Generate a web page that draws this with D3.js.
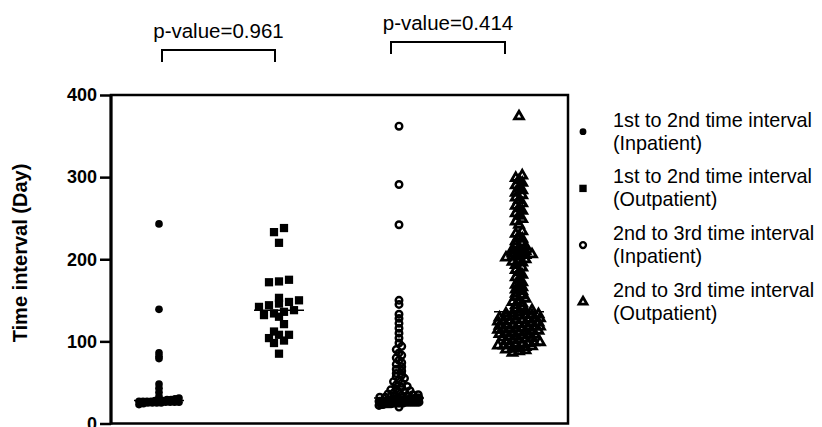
<!DOCTYPE html>
<html lang="en">
<head>
<meta charset="UTF-8">
<title>Time interval scatter</title>
<script src="https://cdn.jsdelivr.net/npm/d3@7/dist/d3.min.js"></script>
<style>
  body { margin: 0; background: #fff; }
  svg { display: block; font-family: Arial, "Liberation Sans", sans-serif; }
</style>
</head>
<body>
<script>
// canvas
const width = 822;
const height = 427;

// data
const groups = ['in12', 'out12', 'in23', 'out23'];
const legendLabels = [
    ['1st to 2nd time interval', '(Inpatient)'],
    ['1st to 2nd time interval', '(Outpatient)'],
    ['2nd to 3rd time interval', '(Inpatient)'],
    ['2nd to 3rd time interval', '(Outpatient)']
];
const yTicks = [0, 100, 200, 300, 400];
const pValues = ['p-value=0.961', 'p-value=0.414'];

const in12 = [243, 139, 86, 82, 79, 48, 43, 38, 33, 31, 30, 29, 29, 28, 28, 28,
    27, 27, 27, 27, 26, 26, 26, 26, 25, 25, 25, 25, 24, 23];

const out12 = [238, 233, 220, 175, 173, 172, 153, 150, 148, 146, 144, 142, 138,
    136, 134, 132, 130, 121, 112, 108, 108, 104, 101, 98, 85];

const in23 = [362, 291, 242, 150, 145, 133, 128, 122, 116, 110, 104,
    98, 94, 90, 86, 83, 80, 77, 74, 72, 69, 66, 64, 61, 59, 57, 55, 53, 51, 49,
    47, 45, 44, 42, 41, 40, 39, 38, 37, 36, 35, 35, 34, 34, 33, 33, 32, 32,
    31, 31, 31, 30, 30, 30, 30,
    29, 29, 29, 29, 29, 28, 28, 28, 28, 28, 28, 28, 28,
    27, 27, 27, 27, 27, 27, 27, 27, 26, 26, 26, 26, 26, 26, 26, 26,
    25, 25, 25, 25, 25, 25, 24, 24, 24, 24, 23, 23, 22, 20];

const out23 = [374,
    302, 299, 296, 293, 290, 287, 284, 281, 278, 275, 272, 268, 265, 262, 259,
    256, 253, 249, 246, 242,
    234, 231, 228, 225, 222, 220, 218, 216,
    214, 212, 210, 209, 207, 206, 205, 204, 203, 202, 200, 199, 197, 196,
    193, 190, 187, 184, 181, 178, 175, 172, 169, 166, 163, 161,
    158, 156, 154, 152, 150, 148, 146, 144, 142, 140, 138, 137,
    135, 134, 134, 133, 132, 132, 131, 130, 130, 129, 128, 128, 127, 126, 126,
    125, 124, 124, 123, 122, 122, 121, 120, 120, 119, 118, 118, 117, 116, 116,
    115, 114, 114, 113, 112, 112, 111, 110, 110, 109, 108, 108, 107, 106, 106,
    105, 104, 103, 102, 101,
    100, 99, 99, 98, 97, 97, 96, 95, 95, 94, 93, 92, 91, 90, 89, 88, 86];

const series = [in12, out12, in23, out23];

// svg
const svg = d3.select('body')
    .append('svg')
    .attr('width', width)
    .attr('height', height);

const plot = { left: 111, top: 95, right: 568, bottom: 423.5 };

const x = d3.scalePoint()
    .domain(groups)
    .range([159, 519]);

const y = d3.scaleLinear()
    .domain([0, 400])
    .range([plot.bottom, plot.top]);

// symbol styles per group
const marks = [
    { type: d3.symbolCircle, size: 46, fill: '#000', stroke: 'none', sw: 0, binH: 4, step: 6, maxW: 40 },
    { type: d3.symbolSquare, size: 68, fill: '#000', stroke: 'none', sw: 0, binH: 8, step: 10, maxW: 40 },
    { type: d3.symbolCircle, size: 34, fill: 'none', stroke: '#000', sw: 2.4, binH: 4, step: 5.5, maxW: 40 },
    { type: d3.symbolTriangle, size: 34, fill: 'none', stroke: '#000', sw: 2.8, binH: 4, step: 6.5, maxW: 42 }
];

// simple Prism-like scatter: bin by pixel row and spread each row
function swarm(vals, o) {
    const pts = vals.map(v => ({ v, py: y(v), dx: 0 }));
    const bins = d3.group(pts, p => Math.round(p.py / o.binH));
    for (const arr of bins.values()) {
        arr.sort((a, b) => a.v - b.v);
        const n = arr.length;
        const s = n > 1 ? Math.min(o.step, o.maxW / (n - 1)) : 0;
        arr.forEach((p, i) => { p.dx = (i - (n - 1) / 2) * s; });
    }
    return pts;
}

// frame
svg.append('rect')
    .attr('x', plot.left)
    .attr('y', plot.top)
    .attr('width', plot.right - plot.left)
    .attr('height', plot.bottom - plot.top)
    .attr('fill', 'none')
    .attr('stroke', '#000')
    .attr('stroke-width', 2.5);

// y axis
const yAxis = svg.append('g')
    .attr('transform', `translate(${plot.left},0)`)
    .call(d3.axisLeft(y).tickValues(yTicks).tickSize(11).tickPadding(3));
yAxis.select('.domain').attr('stroke-width', 3).attr('d', `M0,${plot.top}V${plot.bottom + 1}`);
yAxis.selectAll('.tick line').attr('stroke-width', 2.5);
yAxis.selectAll('.tick text')
    .attr('font-family', 'Arial, "Liberation Sans", sans-serif')
    .attr('font-size', 18)
    .attr('font-weight', 'bold')
    .attr('fill', '#000');

svg.append('text')
    .attr('transform', 'translate(27,253) rotate(-90)')
    .attr('text-anchor', 'middle')
    .attr('font-size', 20)
    .attr('font-weight', 'bold')
    .text('Time interval (Day)');

// points
series.forEach((vals, i) => {
    const m = marks[i];
    const pts = swarm(vals, m);
    const sym = d3.symbol().type(m.type).size(m.size);
    svg.append('g')
        .selectAll('path')
        .data(pts)
        .enter()
        .append('path')
        .attr('transform', d => `translate(${x(groups[i]) + d.dx},${d.py})`)
        .attr('d', sym)
        .attr('fill', m.fill)
        .attr('stroke', m.stroke)
        .attr('stroke-width', m.sw);

    // median line
    const med = d3.median(vals);
    svg.append('line')
        .attr('x1', x(groups[i]) - 25)
        .attr('x2', x(groups[i]) + 25)
        .attr('y1', y(med))
        .attr('y2', y(med))
        .attr('stroke', '#000')
        .attr('stroke-width', 1.5);
});

// p-value brackets
const brackets = [
    { a: 0, b: 1, da: 3, db: -4, top: 50, leg: 12, base: 38 },
    { a: 2, b: 3, da: -8, db: -14, top: 42, leg: 12, base: 30 }
];
brackets.forEach((br, i) => {
    const x0 = x(groups[br.a]) + br.da;
    const x1 = x(groups[br.b]) + br.db;
    svg.append('path')
        .attr('d', `M${x0},${br.top + br.leg}V${br.top}H${x1}V${br.top + br.leg}`)
        .attr('fill', 'none')
        .attr('stroke', '#000')
        .attr('stroke-width', 2);
    svg.append('text')
        .attr('x', (x0 + x1) / 2)
        .attr('y', br.base)
        .attr('text-anchor', 'middle')
        .attr('font-size', 20.5)
        .text(pValues[i]);
});

// legend
const legend = svg.append('g')
    .selectAll('g')
    .data(legendLabels)
    .enter()
    .append('g')
    .attr('transform', (d, i) => `translate(583,${131.7 + i * 56.7})`);

legend.append('path')
    .attr('d', (d, i) => d3.symbol().type(marks[i].type).size(marks[i].size * 0.8)())
    .attr('fill', (d, i) => marks[i].fill)
    .attr('stroke', (d, i) => marks[i].stroke)
    .attr('stroke-width', (d, i) => marks[i].sw);

legend.append('text')
    .attr('x', 30)
    .attr('y', -5)
    .attr('font-size', 19.8)
    .text(d => d[0]);

legend.append('text')
    .attr('x', 30)
    .attr('y', 18)
    .attr('font-size', 19.8)
    .text(d => d[1]);
</script>
</body>
</html>
